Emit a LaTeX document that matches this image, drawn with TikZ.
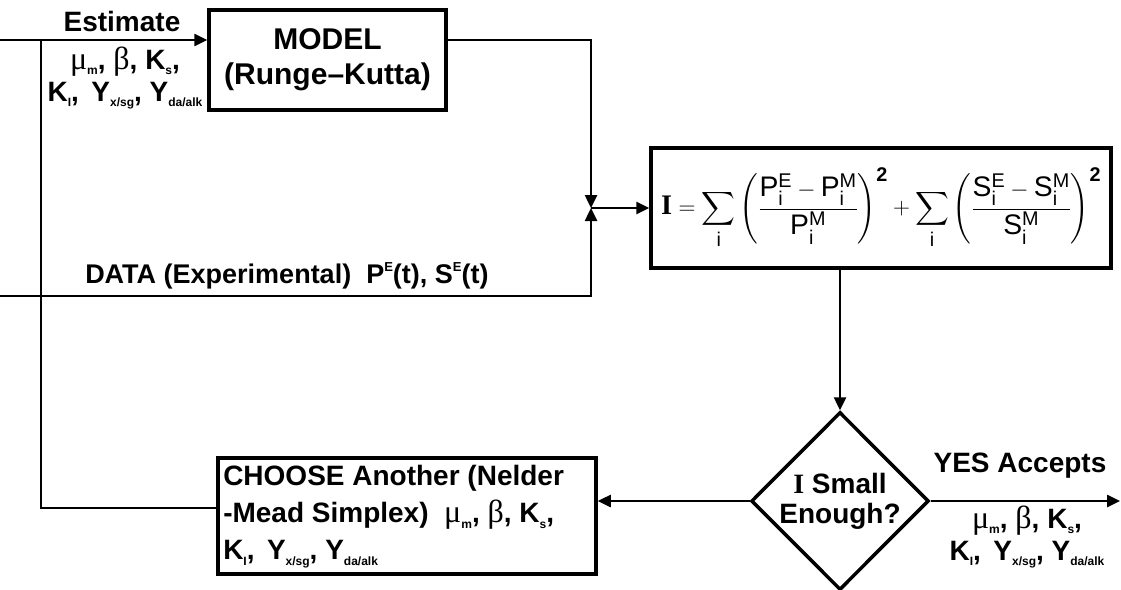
\documentclass[tikz,border=0pt]{standalone}
\usepackage{amsmath}
\usepackage{graphicx}
\usepackage{fontspec}
\setmainfont{Liberation Sans}
\setsansfont{Liberation Sans}
\newfontfamily\grk{Liberation Serif}
\usetikzlibrary{arrows.meta,shapes.geometric}
\newcommand\sbs[1]{\raisebox{-0.4ex}{\fontsize{12}{12}\selectfont #1}}
\newcommand\sps[1]{\raisebox{0.8ex}{\fontsize{13}{13}\selectfont #1}}
\newcommand\gk[1]{{\grk\mdseries\fontsize{32}{32}\selectfont #1}}
\newcommand\mypara{\gk{μ}\sbs{m}, \gk{β}, K\sbs{s},}
\newcommand\myparb{K\sbs{I},\ \,Y\sbs{x/sg}, Y\sbs{da/alk}}
\begin{document}
\begin{tikzpicture}[x=1pt,y=-1pt, line width=2.5pt,
  box/.style={draw, line width=3.5pt, inner sep=0pt, align=center,
    font=\fontsize{30}{35}\selectfont\bfseries},
  lab/.style={font=\fontsize{28}{32}\selectfont\bfseries, align=center, inner sep=0pt},
  arr/.style={-{Triangle[length=13pt,width=12pt]}}]
\useasboundingbox (0,0) rectangle (1121,589);
% boxes
\node[box, minimum width=237pt, minimum height=100pt] (model) at (327.5,60) {MODEL\\(Runge--Kutta)};
\node[box, minimum width=460pt, minimum height=120pt] (eq) at (881,208)
 {\resizebox{440pt}{!}{$\text{\grk I}=\displaystyle\sum_{\mathsf{i}}\left(\frac{\mathsf{P}_{\mathsf{i}}^{\mathsf{E}}-\mathsf{P}_{\mathsf{i}}^{\mathsf{M}}}{\mathsf{P}_{\mathsf{i}}^{\mathsf{M}}}\right)^{\mathbf{2}}+\sum_{\mathsf{i}}\left(\frac{\mathsf{S}_{\mathsf{i}}^{\mathsf{E}}-\mathsf{S}_{\mathsf{i}}^{\mathsf{M}}}{\mathsf{S}_{\mathsf{i}}^{\mathsf{M}}}\right)^{\mathbf{2}}$}};
\node[box, minimum width=378pt, minimum height=116pt] (choose) at (407,516) {};
\node[lab, align=left, anchor=west, font=\fontsize{28}{37}\selectfont\bfseries] (choosetxt) at (222,517)
 {CHOOSE Another (Nelder\\-Mead Simplex)\ \ \mypara\\\myparb};
\node[draw, diamond, aspect=1, line width=3.5pt, minimum width=176pt, minimum height=178pt, inner sep=0pt,
  font=\fontsize{28}{30}\selectfont\bfseries, align=center] (dec) at (840,501)
 {{\grk I} Small\\Enough?};
% labels
\node[lab] (est) at (122,21) {Estimate};
\node[lab] (estp) at (125,78) {\mypara\\\myparb};
\node[lab, anchor=south west, font=\fontsize{27}{32}\selectfont\bfseries] (data) at (84,290) {DATA (Experimental)\ \ P\sps{E}(t), S\sps{E}(t)};
\node[lab] (yes) at (1020,466) {YES Accepts};
\node[lab] (yesp) at (1027,537) {\mypara\\\myparb};
% connectors
\coordinate (tl) at (0,40);
\coordinate (tr) at (591,40);
\coordinate (j) at (591,208);
\coordinate (dl) at (0,296);
\coordinate (dr) at (591,296);
\coordinate (bl) at (41,508);
\coordinate (vt) at (41,40);
\coordinate (yend) at (1120,501);
\draw[arr] (tl) -- (model.west |- tl);
\draw[arr] (model.east |- tr) -- (tr) -- (j);
\draw[arr] (dl) -- (dr) -- (j);
\draw[arr] (j) -- (eq.west |- j);
\draw[arr] (dec.north |- eq.south) -- (dec.north);
\draw[arr] (dec.west) -- (choose.east |- dec.west);
\draw (choose.west |- bl) -- (bl) -- (vt);
\draw[arr] (dec.east) -- (yend);
\end{tikzpicture}
\end{document}
